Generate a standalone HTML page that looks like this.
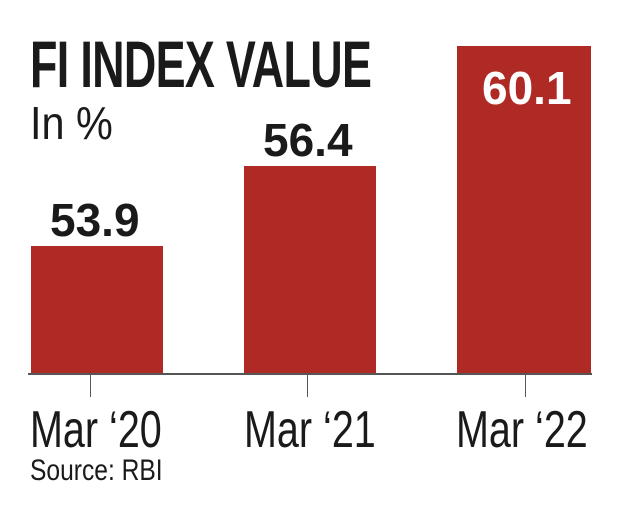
<!DOCTYPE html>
<html><head><style>
body{margin:0;width:620px;height:522px;background:#fff;position:relative;overflow:hidden;font-family:"Liberation Sans",sans-serif;color:#1a1a1a}
.a{position:absolute;white-space:nowrap}
.bar{position:absolute;background:#b02a25}
.t{transform-origin:0 0}
</style></head><body>
<div class="a t" style="left:30px;top:26px;font-size:66px;font-weight:bold;transform:scaleX(0.68);letter-spacing:-1px">FI INDEX VALUE</div>
<div class="a t" style="left:30px;top:96px;font-size:46px;transform:scaleX(0.9)">In %</div>
<div class="bar" style="left:31px;top:246px;width:132px;height:128px"></div>
<div class="bar" style="left:244px;top:166px;width:132px;height:208px"></div>
<div class="bar" style="left:457px;top:46px;width:134px;height:328px"></div>
<div class="a" style="left:28px;top:373px;width:564px;height:2px;background:#555"></div>
<div class="a" style="left:90px;top:375px;width:1px;height:22px;background:#555"></div>
<div class="a" style="left:307px;top:375px;width:1px;height:22px;background:#555"></div>
<div class="a" style="left:525px;top:375px;width:1px;height:22px;background:#555"></div>
<div class="a t" style="left:50px;top:193px;font-size:46px;font-weight:bold;transform:scaleX(1.0)">53.9</div>
<div class="a t" style="left:263px;top:113px;font-size:46px;font-weight:bold;transform:scaleX(1.0)">56.4</div>
<div class="a t" style="left:482px;top:61px;font-size:46px;font-weight:bold;color:#fff;transform:scaleX(1.0)">60.1</div>
<div class="a t" style="left:30px;top:400px;font-size:52px;transform:scaleX(0.76)">Mar ‘20</div>
<div class="a t" style="left:244px;top:400px;font-size:52px;transform:scaleX(0.76)">Mar ‘21</div>
<div class="a t" style="left:456px;top:400px;font-size:52px;transform:scaleX(0.76)">Mar ‘22</div>
<div class="a t" style="left:30px;top:454px;font-size:30px;transform:scaleX(0.82)">Source: RBI</div>
</body></html>
